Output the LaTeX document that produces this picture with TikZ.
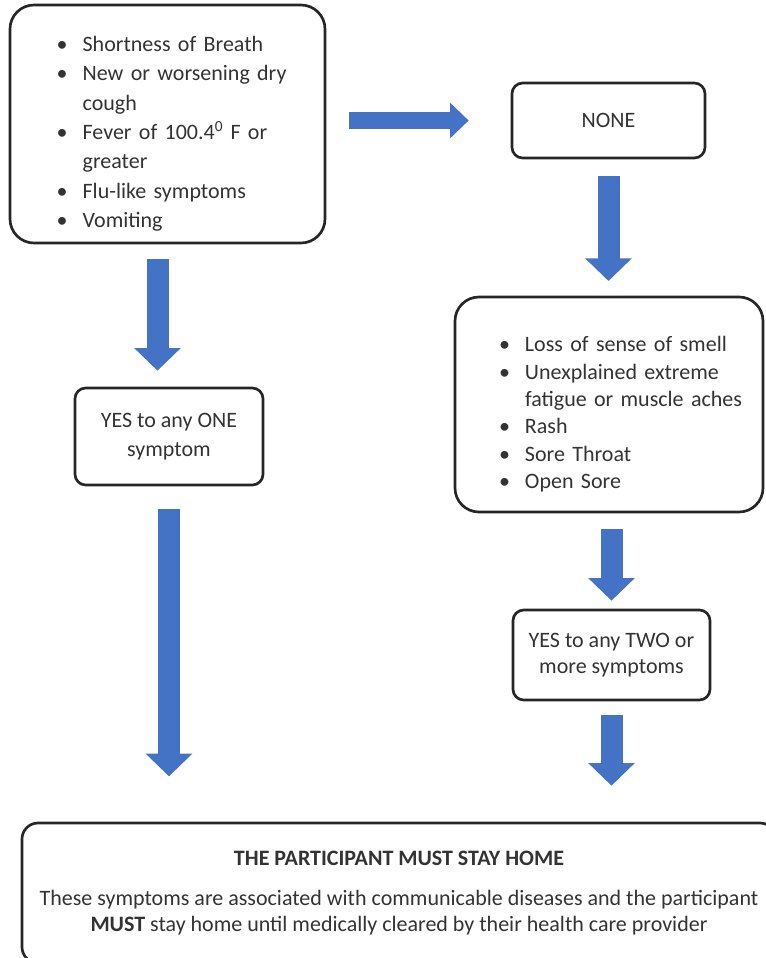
\documentclass[tikz,border=0pt]{standalone}
\usepackage{fontspec}
\setmainfont{Carlito}
\usetikzlibrary{arrows.meta}

\definecolor{arrowblue}{HTML}{4472C4}
\definecolor{textgrey}{HTML}{333333}

\newcommand{\bul}{\makebox[19.5pt][l]{\textbullet}}

\begin{document}
\begin{tikzpicture}[x=0.75pt,y=-0.75pt,
  box/.style={draw=black!85, line width=2pt, rounded corners=8pt, align=center, text=textgrey, font=\fontsize{16.5}{22}\selectfont},
  listbox/.style={box, rounded corners=18pt, align=left, inner xsep=0pt},
  fatarrow/.style={draw=arrowblue, line width=16.5pt, -{Triangle[width=34pt,length=17pt]}}
]
\useasboundingbox (0,0) rectangle (765,958);

% boxes
\node[listbox, text width=236.25pt, minimum height=178.5pt] (early) at (167.5,124)
  {\leftskip=35pt
   \rule{0pt}{26pt}\bul Shortness of Breath\\
   \bul New or worsening dry\\
   \hspace*{19.5pt}cough\\
   \bul Fever of 100.4\textsuperscript{0} F or\\
   \hspace*{19.5pt}greater\\
   \bul Flu-like symptoms\\
   \bul Vomiting\par};
\node[box, minimum width=144.75pt, minimum height=56.25pt] (none) at (608.5,120.5) {NONE};
\node[listbox, text width=231pt, minimum height=161.25pt,
      font=\fontsize{16.5}{20.5}\selectfont] (late) at (609,404.5)
  {\leftskip=33pt
   \rule{0pt}{26pt}\bul Loss of sense of smell\\
   \bul Unexplained extreme\\
   \hspace*{19.5pt}fatigue or muscle aches\\
   \bul Rash\\
   \bul Sore Throat\\
   \bul Open Sore\par};
\node[box, minimum width=141pt, minimum height=72.75pt] (yesone) at (169,436.5) {YES to any ONE\\ symptom};
\node[box, minimum width=147.75pt, minimum height=67.5pt,
      font=\fontsize{16.5}{19.5}\selectfont] (yestwo) at (611.5,655) {YES to any TWO or\\ more symptoms};
\node[box, rounded corners=12pt, minimum width=565.5pt, minimum height=105pt,
      font=\fontsize{16.5}{19.5}\selectfont] (stay) at (399,893)
  {\textbf{THE PARTICIPANT MUST STAY HOME}\\[10pt]
   These symptoms are associated with communicable diseases and the participant\\
   \textbf{MUST} stay home until medically cleared by their health care provider};

% arrows
\draw[fatarrow, line width=13pt, -{Triangle[width=26pt,length=14pt]}, shorten <=17pt, shorten >=31.5pt]
  (early.east |- none.west) -- (none.west);
\draw[fatarrow, shorten <=11pt, shorten >=12pt] ([xshift=-7.5pt]early.south) -- ([xshift=-7.5pt]early.south |- yesone.north);
\draw[fatarrow, shorten <=17pt, shorten >=34pt] (yesone.south) -- (yesone.south |- stay.north);
\draw[fatarrow, shorten <=12.75pt, shorten >=11pt] (none.south) -- (none.south |- late.north);
\draw[fatarrow, shorten <=12pt, shorten >=6pt] (yestwo.north |- late.south) -- (yestwo.north);
\draw[fatarrow, shorten <=10pt, shorten >=27pt] (yestwo.south) -- (yestwo.south |- stay.north);
\end{tikzpicture}
\end{document}
